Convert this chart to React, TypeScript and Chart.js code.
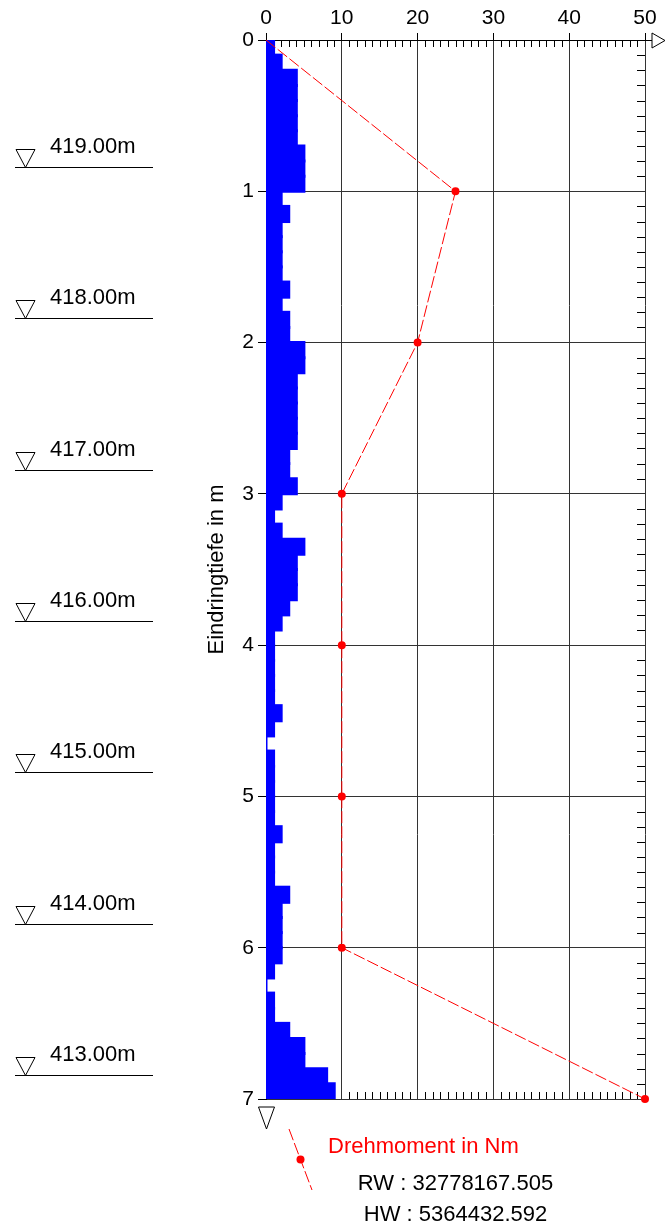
import React, { useEffect, useRef } from "react";
import { Chart, registerables } from "chart.js";

Chart.register(...registerables);

// Depth (top of each 10 cm interval, m)
const depthFrom = [
  0.0, 0.1, 0.2, 0.3, 0.4, 0.5, 0.6, 0.7, 0.8, 0.9,
  1.0, 1.1, 1.2, 1.3, 1.4, 1.5, 1.6, 1.7, 1.8, 1.9,
  2.0, 2.1, 2.2, 2.3, 2.4, 2.5, 2.6, 2.7, 2.8, 2.9,
  3.0, 3.1, 3.2, 3.3, 3.4, 3.5, 3.6, 3.7, 3.8, 3.9,
  4.0, 4.1, 4.2, 4.3, 4.4, 4.5, 4.6, 4.7, 4.8, 4.9,
  5.0, 5.1, 5.2, 5.3, 5.4, 5.5, 5.6, 5.7, 5.8, 5.9,
  6.0, 6.1, 6.2, 6.3, 6.4, 6.5, 6.6, 6.7, 6.8, 6.9,
];
const intervalHeight = 0.1;

// Blows per 10 cm
const blows = [
  1, 2, 4, 4, 4, 4, 4, 5, 5, 5,
  2, 3, 2, 2, 2, 2, 3, 2, 3, 3,
  5, 5, 4, 4, 4, 4, 4, 3, 3, 4,
  2, 1, 2, 5, 4, 4, 4, 3, 2, 1,
  1, 1, 1, 1, 2, 1, 0, 1, 1, 1,
  1, 1, 2, 1, 1, 1, 3, 2, 2, 2,
  2, 1, 0, 1, 1, 3, 5, 5, 8, 9,
];

// Torque (Drehmoment in Nm)
const torqueDepth = [0, 1, 2, 3, 4, 5, 6, 7];
const torqueValue = [0, 25, 20, 10, 10, 10, 10, 50];

// Elevation markers
const surfaceElevation = 419.84;
const elevationMarks = [419, 418, 417, 416, 415, 414, 413];

const legendLabel = "Drehmoment in Nm";
const rwText = "RW : 32778167.505";
const hwText = "HW : 5364432.592";
const yTitle = "Eindringtiefe in m";

const FONT = '"Liberation Sans", Arial, Helvetica, sans-serif';

const decorPlugin = {
  id: "decor",
  beforeDatasetsDraw(chart: any) {
    const { ctx, chartArea, scales } = chart;
    const x = scales.x;
    const y = scales.y;
    ctx.save();
    ctx.strokeStyle = "#000";
    ctx.lineWidth = 1;
    ctx.beginPath();
    for (let v = 1; v < 50; v++) {
      if (v % 10 === 0) continue;
      const px = Math.round(x.getPixelForValue(v)) + 0.5;
      ctx.moveTo(px, chartArea.top);
      ctx.lineTo(px, chartArea.top + 7);
      ctx.moveTo(px, chartArea.bottom);
      ctx.lineTo(px, chartArea.bottom - 7);
    }
    for (let i = 1; i < 70; i++) {
      if (i % 10 === 0) continue;
      const py = Math.round(y.getPixelForValue(i / 10)) + 0.5;
      ctx.moveTo(chartArea.right, py);
      ctx.lineTo(chartArea.right - 8, py);
    }
    ctx.stroke();
    ctx.restore();
  },
  afterDraw(chart: any) {
    const { ctx, chartArea, scales } = chart;
    const y = scales.y;
    ctx.save();
    ctx.strokeStyle = "#000";
    ctx.fillStyle = "#000";
    ctx.lineWidth = 1;

    // arrow at end of top axis
    const ty = Math.round(chartArea.top) + 0.5;
    ctx.beginPath();
    ctx.moveTo(chartArea.right, ty);
    ctx.lineTo(chartArea.right + 7, ty);
    ctx.moveTo(chartArea.right + 7, ty - 7.5);
    ctx.lineTo(chartArea.right + 7, ty + 7.5);
    ctx.lineTo(chartArea.right + 20, ty);
    ctx.closePath();
    ctx.stroke();

    // end triangle below the depth axis
    const bx = Math.round(chartArea.left) + 0.5;
    const by = chartArea.bottom;
    ctx.beginPath();
    ctx.moveTo(bx - 8, by + 8);
    ctx.lineTo(bx + 8, by + 8);
    ctx.lineTo(bx, by + 30);
    ctx.closePath();
    ctx.stroke();

    // elevation markers
    ctx.font = "22px " + FONT;
    ctx.textAlign = "left";
    ctx.textBaseline = "alphabetic";
    elevationMarks.forEach((e) => {
      const ly = Math.round(y.getPixelForValue(surfaceElevation - e)) + 0.5;
      ctx.beginPath();
      ctx.moveTo(15, ly);
      ctx.lineTo(153, ly);
      ctx.stroke();
      ctx.beginPath();
      ctx.moveTo(16, ly - 18);
      ctx.lineTo(35, ly - 18);
      ctx.lineTo(25.5, ly);
      ctx.closePath();
      ctx.stroke();
      ctx.fillText(e.toFixed(2) + "m", 50, ly - 15);
    });

    // legend
    ctx.strokeStyle = "#ff0000";
    ctx.fillStyle = "#ff0000";
    ctx.setLineDash([12, 3]);
    ctx.beginPath();
    ctx.moveTo(289, 1129);
    ctx.lineTo(312, 1190);
    ctx.stroke();
    ctx.setLineDash([]);
    ctx.beginPath();
    ctx.arc(300.5, 1159.5, 4, 0, Math.PI * 2);
    ctx.fill();
    ctx.fillText(legendLabel, 328, 1153);

    ctx.fillStyle = "#000";
    ctx.textAlign = "center";
    const cx = (chartArea.left + chartArea.right) / 2;
    ctx.fillText(rwText, cx, 1190);
    ctx.fillText(hwText, cx, 1221);
    ctx.restore();
  },
};

export default function App() {
  const ref = useRef<HTMLCanvasElement | null>(null);
  useEffect(() => {
    if (!ref.current) return;
    const chart = new Chart(ref.current, {
      type: "bar",
      data: {
        datasets: [
          {
            type: "line",
            data: torqueDepth.map((d, i) => ({ x: torqueValue[i], y: d })),
            borderColor: "#ff0000",
            borderWidth: 1,
            borderDash: [12, 3],
            pointRadius: torqueDepth.map((_, i) => (i === 0 ? 0 : 4)),
            pointBackgroundColor: "#ff0000",
            pointBorderColor: "#ff0000",
            pointBorderWidth: 0,
            fill: false,
            tension: 0,
            clip: false,
            order: 0,
          } as any,
          {
            type: "bar",
            data: depthFrom.map((d, i) => ({ y: d + intervalHeight / 2, x: blows[i] })),
            backgroundColor: "#0000ff",
            borderWidth: 0,
            inflateAmount: 1.5,
            barPercentage: 1,
            categoryPercentage: 1,
            order: 1,
          } as any,
        ],
      },
      options: {
        indexAxis: "y",
        animation: false,
        responsive: false,
        devicePixelRatio: 1,
        layout: { padding: { left: 200, right: 20, top: 0, bottom: 126 } },
        plugins: { legend: { display: false }, tooltip: { enabled: false } },
        scales: {
          x: {
            type: "linear",
            position: "top",
            min: 0,
            max: 50,
            offset: false,
            ticks: {
              stepSize: 10,
              color: "#000",
              font: { family: FONT, size: 21 },
              padding: 2,
              maxRotation: 0,
            },
            grid: { color: "#333", lineWidth: 1, tickLength: 7, tickColor: "#000", offset: false },
            border: { color: "#000", width: 1 },
            afterFit: (s: any) => {
              s.height = 40;
            },
          },
          y: {
            type: "linear",
            position: "left",
            reverse: true,
            min: 0,
            max: 7,
            offset: false,
            ticks: {
              stepSize: 1,
              color: "#000",
              font: { family: FONT, size: 21 },
              padding: 4,
            },
            grid: { color: "#333", lineWidth: 1, tickLength: 8, tickColor: "#000", offset: false },
            border: { color: "#000", width: 1 },
            title: {
              display: true,
              text: yTitle,
              color: "#000",
              font: { family: FONT, size: 22 },
              padding: { top: 4, bottom: 0 },
            },
            afterFit: (s: any) => {
              s.width = 66;
            },
          },
        },
      } as any,
      plugins: [decorPlugin],
    });
    return () => chart.destroy();
  }, []);
  return (
    <div style={{ position: "absolute", left: 0, top: 0, width: 665, height: 1225 }}>
      <canvas ref={ref} width={665} height={1225} style={{ display: "block" }} />
    </div>
  );
}
